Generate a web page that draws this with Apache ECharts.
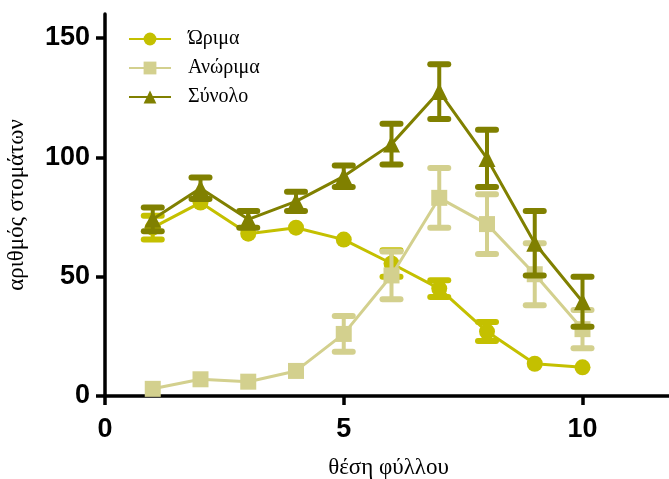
<!DOCTYPE html>
<html><head><meta charset="utf-8">
<script src="https://cdn.jsdelivr.net/npm/echarts@6/dist/echarts.min.js"></script>
<style>html,body{margin:0;padding:0;background:#fff}#c{width:669px;height:479px}</style>
</head><body><div id="c"></div>
<script>
const leafPos = [1, 2, 3, 4, 5, 6, 7, 8, 9, 10];
const matureMean = [70.5, 81, 68, 70.5, 65.5, 55.5, 45, 27, 13.5, 12];
const matureErr = [5, 0, 0, 0, 0, 5.5, 3.5, 4, 0, 0];
const immatureMean = [3, 7, 6, 10.5, 26, 50.5, 83, 72, 51, 28];
const immatureErr = [0, 0, 0, 0, 7.5, 10, 12.5, 12.5, 13, 8];
const totalMean = [74, 87, 74, 81.5, 92, 105.5, 127.5, 99.5, 64, 39.5];
const totalErr = [5, 4.5, 3.5, 4, 4.5, 8.5, 11.5, 12, 13.5, 10.5];
const yTickMax = 150;
const yAxisMax = 160;
const xTickStep = 5;
const yTickStep = 50;
const names = ['Ώριμα', 'Ανώριμα', 'Σύνολο'];
const colors = ['#c4c000', '#d3d08e', '#808000'];

const chart = echarts.init(document.getElementById('c'), null, {renderer: 'canvas'});
const serif = '"Liberation Serif", "Times New Roman", serif';
const sans = '"Liberation Sans", Arial, sans-serif';

const G = {left: 105, top: 14, bottom: 83, right: -9};
const plotH = 479 - G.top - G.bottom;
const tickGridTop = G.top + plotH * (1 - yTickMax / yAxisMax);

function errSeries(mean, err, color, z) {
  return {
    type: 'custom',
    z: z,
    silent: true,
    data: leafPos.map((x, i) => [x, mean[i] - err[i], mean[i] + err[i], err[i]]),
    renderItem: function (params, api) {
      if (!api.value(3)) return {type: 'group', children: []};
      const lo = api.coord([api.value(0), api.value(1)]);
      const hi = api.coord([api.value(0), api.value(2)]);
      const hw = 9;
      const st = {stroke: color, lineWidth: 4, lineCap: 'round'};
      const cap = {stroke: color, lineWidth: 6, lineCap: 'round'};
      return {type: 'group', children: [
        {type: 'line', shape: {x1: hi[0], y1: hi[1], x2: lo[0], y2: lo[1]}, style: st},
        {type: 'line', shape: {x1: hi[0] - hw, y1: hi[1], x2: hi[0] + hw, y2: hi[1]}, style: cap},
        {type: 'line', shape: {x1: lo[0] - hw, y1: lo[1], x2: lo[0] + hw, y2: lo[1]}, style: cap}
      ]};
    }
  };
}

function lineSeries(name, mean, color, symbol, size, z) {
  return {
    name: name, type: 'line', z: z,
    data: leafPos.map((x, i) => [x, mean[i]]),
    symbol: symbol, symbolSize: size,
    lineStyle: {color: color, width: 3},
    itemStyle: {color: color},
    emphasis: {disabled: true}
  };
}

chart.setOption({
  animation: false,
  grid: [
    {left: G.left, top: G.top, bottom: G.bottom, right: G.right, containLabel: false, outerBoundsMode: 'none'},
    {left: G.left, top: tickGridTop, bottom: G.bottom, right: G.right, containLabel: false, outerBoundsMode: 'none'}
  ],
  legend: {
    left: 123, top: 24, orient: 'vertical', itemGap: 9,
    itemWidth: 42, itemHeight: 16,
    textStyle: {fontFamily: serif, fontSize: 20, color: '#000', padding: [0, 0, 0, 12]},
    data: names
  },
  xAxis: [{
    gridIndex: 0, type: 'value', min: 0, max: 12, interval: xTickStep,
    name: 'θέση φύλλου', nameLocation: 'middle', nameGap: 60,
    nameTextStyle: {fontFamily: serif, fontSize: 23, color: '#000', padding: [0, 0, 0, -6]},
    axisLine: {lineStyle: {color: '#000', width: 3.5}},
    axisTick: {length: 9, lineStyle: {color: '#000', width: 3.5}},
    splitLine: {show: false},
    axisLabel: {fontFamily: sans, fontWeight: 'bold', fontSize: 27, color: '#000', margin: 20,
      formatter: v => (v <= 10 ? String(v) : '')}
  }, {
    gridIndex: 1, type: 'value', min: 0, max: 12, show: false
  }],
  yAxis: [{
    gridIndex: 0, type: 'value', min: 0, max: yAxisMax,
    name: 'αριθμός στομάτων', nameLocation: 'middle', nameGap: 77, nameRotate: 90,
    nameTextStyle: {fontFamily: serif, fontSize: 23, color: '#000'},
    axisLine: {show: true, lineStyle: {color: '#000', width: 3.5}},
    axisTick: {show: false},
    splitLine: {show: false},
    axisLabel: {show: false}
  }, {
    gridIndex: 1, type: 'value', min: 0, max: yTickMax, interval: yTickStep,
    axisLine: {show: false},
    axisTick: {show: true, length: 9, lineStyle: {color: '#000', width: 3.5}},
    splitLine: {show: false},
    axisLabel: {fontFamily: sans, fontWeight: 'bold', fontSize: 27, color: '#000', margin: 15}
  }],
  series: [
    errSeries(matureMean, matureErr, colors[0], 2),
    lineSeries(names[0], matureMean, colors[0], 'circle', 16, 3),
    errSeries(immatureMean, immatureErr, colors[1], 4),
    lineSeries(names[1], immatureMean, colors[1], 'rect', 16, 5),
    errSeries(totalMean, totalErr, colors[2], 6),
    lineSeries(names[2], totalMean, colors[2], 'triangle', 17, 7)
  ]
});
</script></body></html>
